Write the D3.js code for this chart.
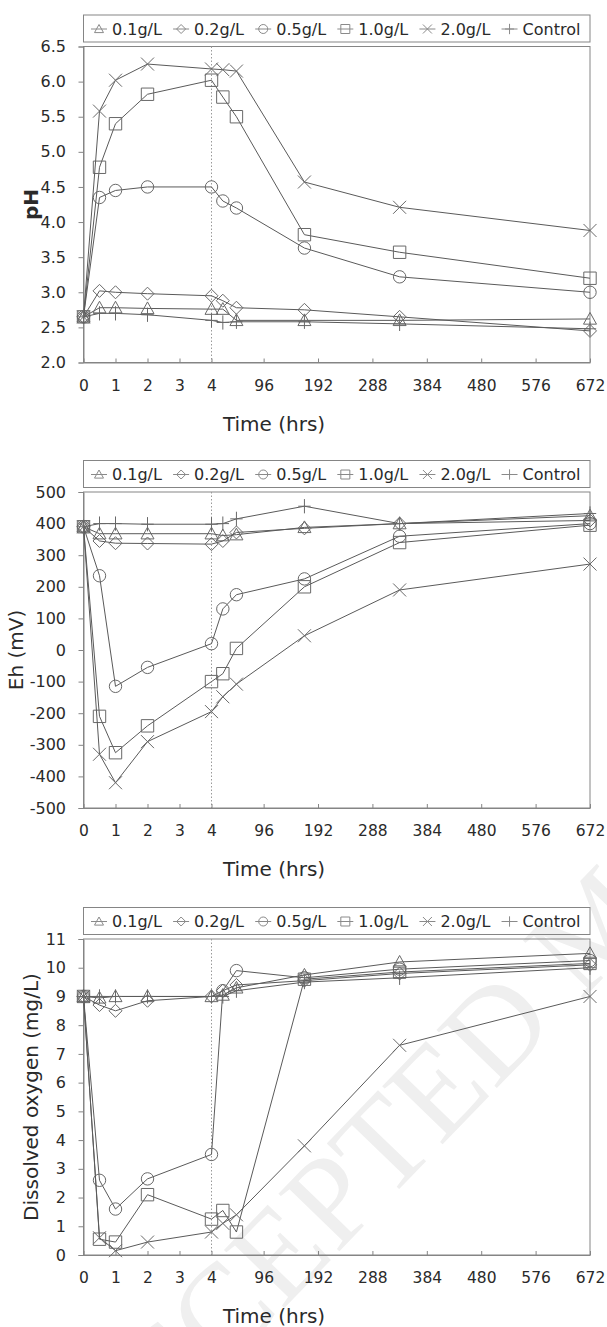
<!DOCTYPE html>
<html>
<head>
<meta charset="utf-8">
<script src="https://cdn.jsdelivr.net/npm/d3@7/dist/d3.min.js"></script>
<style>
body { margin: 0; background: #fff; }
text { font-family: "DejaVu Sans", sans-serif; }
</style>
</head>
<body>
<svg id="chart" width="607" height="1327"></svg>
<script>
// sampling times (hrs)
const times = [0, 0.5, 1, 2, 4, 24, 48, 168, 336, 672];
const seriesNames = ["0.1g/L", "0.2g/L", "0.5g/L", "1.0g/L", "2.0g/L", "Control"];
const seriesShapes = ["triangle", "diamond", "circle", "square", "cross", "plus"];

// pH
const ph01 = [2.65, 2.78, 2.78, 2.77, 2.76, 2.76, 2.6, 2.6, 2.6, 2.62];
const ph02 = [2.65, 3.02, 3.0, 2.98, 2.95, 2.88, 2.78, 2.75, 2.65, 2.45];
const ph05 = [2.65, 4.35, 4.45, 4.5, 4.5, 4.3, 4.2, 3.63, 3.22, 3.0];
const ph10 = [2.65, 4.78, 5.4, 5.82, 6.02, 5.78, 5.5, 3.82, 3.57, 3.2];
const ph20 = [2.65, 5.58, 6.02, 6.25, 6.18, 6.17, 6.15, 4.57, 4.21, 3.88];
const phCtrl = [2.65, 2.7, 2.7, 2.68, 2.6, 2.57, 2.58, 2.58, 2.55, 2.48];

// Eh (mV)
const eh01 = [390, 368, 368, 368, 368, 362, 365, 388, 400, 425];
const eh02 = [390, 345, 338, 337, 335, 345, 372, 385, 400, 410];
const eh05 = [390, 235, -115, -55, 20, 130, 175, 225, 360, 400];
const eh10 = [390, -210, -325, -240, -100, -75, 5, 200, 340, 395];
const eh20 = [390, -330, -420, -290, -195, -148, -108, 45, 190, 272];
const ehCtrl = [390, 400, 400, 398, 398, 400, 415, 455, 400, 432];

// dissolved oxygen (mg/L)
const do01 = [9.0, 8.95, 9.0, 9.0, 9.0, 9.05, 9.3, 9.75, 10.2, 10.5];
const do02 = [9.0, 8.7, 8.5, 8.85, 9.0, 9.2, 9.4, 9.55, 9.8, 10.1];
const do05 = [9.0, 2.6, 1.6, 2.65, 3.5, 9.2, 9.9, 9.65, 9.95, 10.25];
const do10 = [9.0, 0.55, 0.45, 2.1, 1.25, 1.55, 0.8, 9.6, 9.85, 10.15];
const do20 = [9.0, 0.6, 0.15, 0.45, 0.8, 1.1, 1.4, 3.8, 7.3, 9.0];
const doCtrl = [9.0, 9.0, 9.0, 9.0, 9.0, 9.0, 9.2, 9.5, 9.65, 10.0];

// x tick labels (broken axis: 0-4 h, then 4-672 h)
const xTickValues = [0, 1, 2, 3, 4, 96, 192, 288, 384, 480, 576, 672];

const svg = d3.select("#chart");
const xLeft = 83.5, xBreak = 211.5, xRight = 590;
const plotH = 316;
const x = d3.scaleLinear().domain([0, 4, 672]).range([xLeft, xBreak, xRight]);
const xMinor = d3.range(0, 4, 0.2).concat(d3.range(24, 672, 24));

const lineCol = "#5a5a5a", markCol = "#686868", axisCol = "#858585", textCol = "#2a2a2a";

// faint watermark behind everything, clipped to the page
svg.append("clipPath").attr("id", "page")
  .append("rect").attr("width", 607).attr("height", 1327);
svg.append("g").attr("clip-path", "url(#page)")
  .append("text")
  .attr("transform", "translate(99,1500) rotate(-46)")
  .attr("font-size", 128)
  .attr("fill", "#efefef")
  .style("font-family", "Liberation Serif")
  .text("ACCEPTED MANUSCRIPT");

const markerPath = (shape, r) => {
  switch (shape) {
    case "triangle": return `M0,${-r} L${r},${r * 0.8} L${-r},${r * 0.8} Z`;
    case "diamond": return `M0,${-r} L${r},0 L0,${r} L${-r},0 Z`;
    case "circle": return `M${r},0 A${r},${r} 0 1,1 ${-r},0 A${r},${r} 0 1,1 ${r},0 Z`;
    case "square": return `M${-r},${-r} H${r} V${r} H${-r} Z`;
    case "cross": return `M${-r},${-r} L${r},${r} M${-r},${r} L${r},${-r}`;
    case "plus": return `M${-r},0 H${r} M0,${-r * 1.15} V${r * 1.15}`;
  }
};
const markerSize = {triangle: 6.5, diamond: 6.5, circle: 6.2, square: 6.2, cross: 6.5, plus: 6.2};

const panels = [
  {top: 46.5, domain: [2, 6.5], major: d3.range(2, 6.51, 0.5), minor: d3.range(2, 6.51, 0.1),
   fmt: d3.format(".1f"), title: "pH", titleX: 31, bold: true,
   series: [ph01, ph02, ph05, ph10, ph20, phCtrl]},
  {top: 492, domain: [-500, 500], major: d3.range(-500, 501, 100), minor: d3.range(-500, 501, 20),
   fmt: d => String(d), title: "Eh (mV)", titleX: 16, bold: false,
   series: [eh01, eh02, eh05, eh10, eh20, ehCtrl]},
  {top: 939, domain: [0, 11], major: d3.range(0, 11.01, 1), minor: d3.range(0, 11.01, 0.2),
   fmt: d => String(d), title: "Dissolved oxygen (mg/L)", titleX: 31, bold: false,
   series: [do01, do02, do05, do10, do20, doCtrl]}
];

panels.forEach(p => {
  const bottom = p.top + plotH;
  const y = d3.scaleLinear().domain(p.domain).range([bottom, p.top]);
  const g = svg.append("g");

  // legend box above the plot
  const legTop = p.top - 31.5, legH = 27;
  g.append("rect")
    .attr("x", xLeft).attr("y", legTop)
    .attr("width", xRight - xLeft).attr("height", legH)
    .attr("fill", "none").attr("stroke", axisCol);
  let cursor = xLeft + 7.5;
  const legY = legTop + legH / 2 + 0.5;
  seriesNames.forEach((name, i) => {
    const item = g.append("g");
    item.append("line")
      .attr("x1", cursor).attr("x2", cursor + 16)
      .attr("y1", legY).attr("y2", legY)
      .attr("stroke", "#8a8a8a");
    item.append("path")
      .attr("transform", `translate(${cursor + 8},${legY})`)
      .attr("d", markerPath(seriesShapes[i], 4.5))
      .attr("fill", "none").attr("stroke", "#8a8a8a");
    const t = item.append("text")
      .attr("x", cursor + 21).attr("y", legY)
      .attr("dy", "0.36em")
      .attr("font-size", 16).attr("fill", textCol)
      .text(name);
    cursor += 21 + t.node().getComputedTextLength() + 11.2;
  });

  // plot frame
  g.append("rect")
    .attr("x", xLeft).attr("y", p.top)
    .attr("width", xRight - xLeft).attr("height", plotH)
    .attr("fill", "none").attr("stroke", axisCol);

  // dotted line at the axis break
  g.append("line")
    .attr("x1", x(4)).attr("x2", x(4))
    .attr("y1", p.top).attr("y2", bottom)
    .attr("stroke", "#9a9a9a").attr("stroke-dasharray", "1.5,2");

  // y axis
  const yAx = g.append("g").attr("transform", `translate(${xLeft},0)`);
  yAx.call(d3.axisLeft(y).tickValues(p.minor).tickSize(3).tickFormat(""));
  yAx.call(d3.axisLeft(y).tickValues(p.major).tickSize(5).tickPadding(12.5).tickFormat(p.fmt));
  yAx.selectAll(".domain").attr("stroke", axisCol);
  yAx.selectAll(".tick line").attr("stroke", axisCol);
  yAx.selectAll("text").attr("font-size", 16).attr("fill", textCol)
    .style("font-family", "DejaVu Sans");

  // x axis (ticks point into the plot)
  const xAx = g.append("g").attr("transform", `translate(0,${bottom})`);
  xAx.call(d3.axisBottom(x).tickValues(xMinor).tickSizeInner(-3).tickSizeOuter(0).tickFormat(""));
  xAx.call(d3.axisBottom(x).tickValues(xTickValues).tickSizeInner(-4).tickSizeOuter(0)
    .tickPadding(17).tickFormat(d => String(d)));
  xAx.selectAll(".domain").attr("stroke", axisCol);
  xAx.selectAll(".tick line").attr("stroke", axisCol);
  xAx.selectAll("text").attr("font-size", 15.5).attr("fill", textCol)
    .style("font-family", "DejaVu Sans");

  // series
  const line = d3.line().x(d => x(d.t)).y(d => y(d.v));
  p.series.forEach((vals, i) => {
    const pts = times.map((t, k) => ({t: t, v: vals[k]}));
    g.append("path")
      .datum(pts)
      .attr("d", line)
      .attr("fill", "none").attr("stroke", lineCol).attr("stroke-width", 1);
    g.selectAll(null)
      .data(pts)
      .enter()
      .append("path")
      .attr("transform", d => `translate(${x(d.t)},${y(d.v)})`)
      .attr("d", markerPath(seriesShapes[i], markerSize[seriesShapes[i]]))
      .attr("fill", "none").attr("stroke", markCol).attr("stroke-width", 1);
  });

  // axis titles
  g.append("text")
    .attr("transform", `translate(${p.titleX},${(p.top + bottom) / 2}) rotate(-90)`)
    .attr("text-anchor", "middle").attr("dy", "0.36em")
    .attr("font-size", 20).attr("fill", textCol)
    .attr("font-weight", p.bold ? "bold" : "normal")
    .text(p.title);
  g.append("text")
    .attr("x", 274).attr("y", bottom + 61)
    .attr("text-anchor", "middle").attr("dy", "0.36em")
    .attr("font-size", 20).attr("fill", textCol)
    .text("Time (hrs)");
});
</script>
</body>
</html>
